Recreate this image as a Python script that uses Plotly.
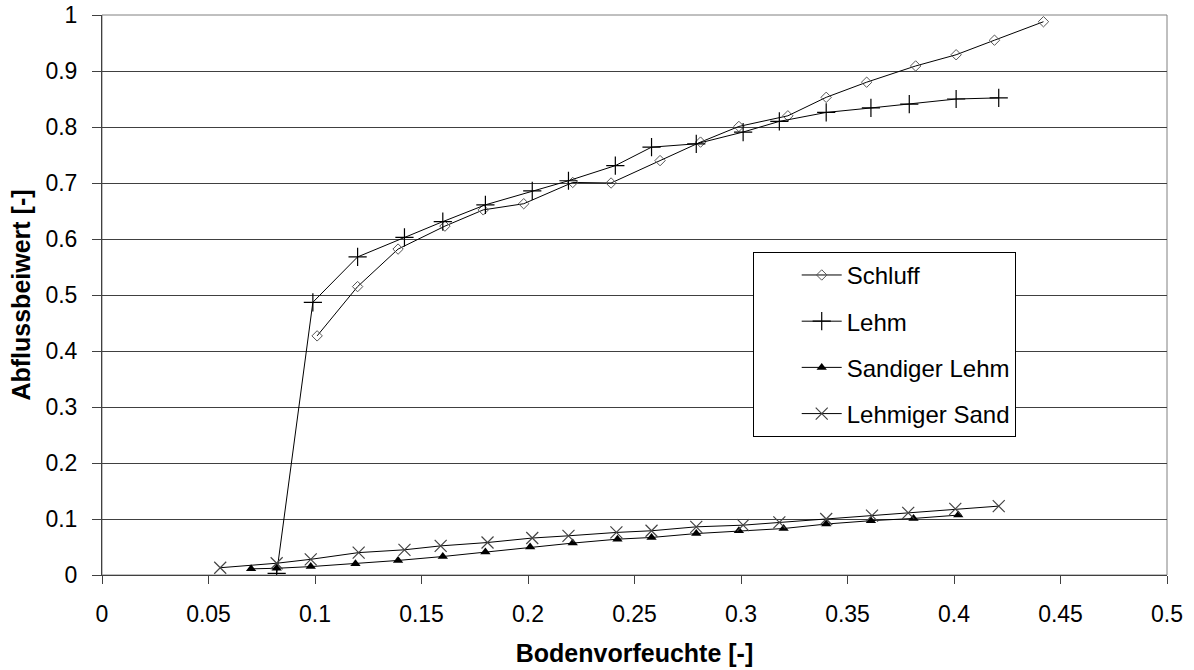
import plotly.graph_objects as go

# Data
schluff_x = [0.101, 0.12, 0.139, 0.161, 0.179, 0.198, 0.221, 0.239, 0.262, 0.281, 0.299, 0.322, 0.34, 0.359, 0.382, 0.401, 0.419, 0.442]
schluff_y = [0.427, 0.515, 0.582, 0.623, 0.652, 0.663, 0.701, 0.700, 0.740, 0.773, 0.801, 0.820, 0.853, 0.880, 0.909, 0.929, 0.955, 0.988]

lehm_x = [0.082, 0.099, 0.12, 0.142, 0.16, 0.18, 0.202, 0.219, 0.241, 0.258, 0.279, 0.301, 0.318, 0.34, 0.361, 0.379, 0.401, 0.421]
lehm_y = [0.003, 0.487, 0.568, 0.603, 0.631, 0.661, 0.686, 0.704, 0.731, 0.764, 0.770, 0.791, 0.810, 0.826, 0.834, 0.841, 0.850, 0.852]

sandlehm_x = [0.07, 0.082, 0.098, 0.119, 0.139, 0.16, 0.18, 0.201, 0.221, 0.242, 0.258, 0.279, 0.299, 0.32, 0.34, 0.361, 0.381, 0.402]
sandlehm_y = [0.011, 0.012, 0.015, 0.020, 0.026, 0.033, 0.041, 0.050, 0.057, 0.064, 0.067, 0.074, 0.079, 0.083, 0.091, 0.097, 0.101, 0.107]

lehmsand_x = [0.0555, 0.082, 0.098, 0.1205, 0.142, 0.159, 0.181, 0.202, 0.219, 0.2415, 0.258, 0.279, 0.301, 0.318, 0.34, 0.3615, 0.3785, 0.4006, 0.421]
lehmsand_y = [0.013, 0.021, 0.028, 0.040, 0.045, 0.052, 0.058, 0.066, 0.070, 0.076, 0.079, 0.086, 0.089, 0.094, 0.100, 0.106, 0.111, 0.118, 0.123]

FONT = "Liberation Sans, Arial, sans-serif"

fig = go.Figure()
fig.add_trace(go.Scatter(x=schluff_x, y=schluff_y, name="Schluff", mode="lines+markers",
                         legendgroup="a",
                         line=dict(color="black", width=1),
                         marker=dict(symbol="diamond-open", size=8, color="#555555", line=dict(width=1))))
fig.add_trace(go.Scatter(x=lehm_x, y=lehm_y, name="Lehm", mode="lines+markers",
                         legendgroup="b",
                         line=dict(color="black", width=1),
                         marker=dict(symbol="cross-thin-open", size=13, color="black", line=dict(width=1.2))))
fig.add_trace(go.Scatter(x=sandlehm_x, y=sandlehm_y, name="Sandiger Lehm", mode="lines+markers",
                         legendgroup="c",
                         line=dict(color="black", width=1),
                         marker=dict(symbol="triangle-up", size=9, color="black")))
fig.add_trace(go.Scatter(x=lehmsand_x, y=lehmsand_y, name="Lehmiger Sand", mode="lines+markers",
                         legendgroup="d",
                         line=dict(color="black", width=1),
                         marker=dict(symbol="x-thin-open", size=12, color="#444444", line=dict(width=1.2))))

fig.update_layout(
    width=1194, height=670,
    margin=dict(l=102, r=27, t=15, b=95),
    paper_bgcolor="white", plot_bgcolor="white",
    font=dict(family=FONT, size=23, color="black"),
    showlegend=True,
    legend=dict(x=0.611, y=0.577, xanchor="left", yanchor="top",
                bordercolor="black", borderwidth=1, bgcolor="white",
                font=dict(family=FONT, size=24, color="black"),
                tracegroupgap=12, itemwidth=40, indentation=43),
    xaxis=dict(range=[0, 0.5], dtick=0.05, tick0=0, showgrid=False, zeroline=False,
               automargin=False, ticklabeloverflow="allow",
               showline=True, linecolor="#404040", linewidth=1,
               ticks="outside", ticklen=8, tickcolor="#404040", ticklabelstandoff=10,
               tickfont=dict(family=FONT, size=23),
               title=dict(text="<b>Bodenvorfeuchte [-]</b>", font=dict(family=FONT, size=25), standoff=18)),
    yaxis=dict(range=[0, 1], dtick=0.1, tick0=0, showgrid=True, gridcolor="#404040", gridwidth=1,
               automargin=False, ticklabeloverflow="allow",
               zeroline=False, showline=True, linecolor="#404040", linewidth=1,
               ticks="outside", ticklen=9, tickcolor="#404040", ticklabelstandoff=10,
               tickfont=dict(family=FONT, size=23),
               title=dict(text="<b>Abflussbeiwert [-]</b>", font=dict(family=FONT, size=25), standoff=7)),
)
# plot area border (top/right gray frame)
fig.add_shape(type="rect", xref="paper", yref="paper", x0=0, y0=0, x1=1, y1=1,
              line=dict(color="#808080", width=1), layer="below")

# remove the browser's default page margin so the figure fills the window exactly
fig.write_html("out.html", config={"displayModeBar": False},
               post_script="document.body.style.margin='0';")
